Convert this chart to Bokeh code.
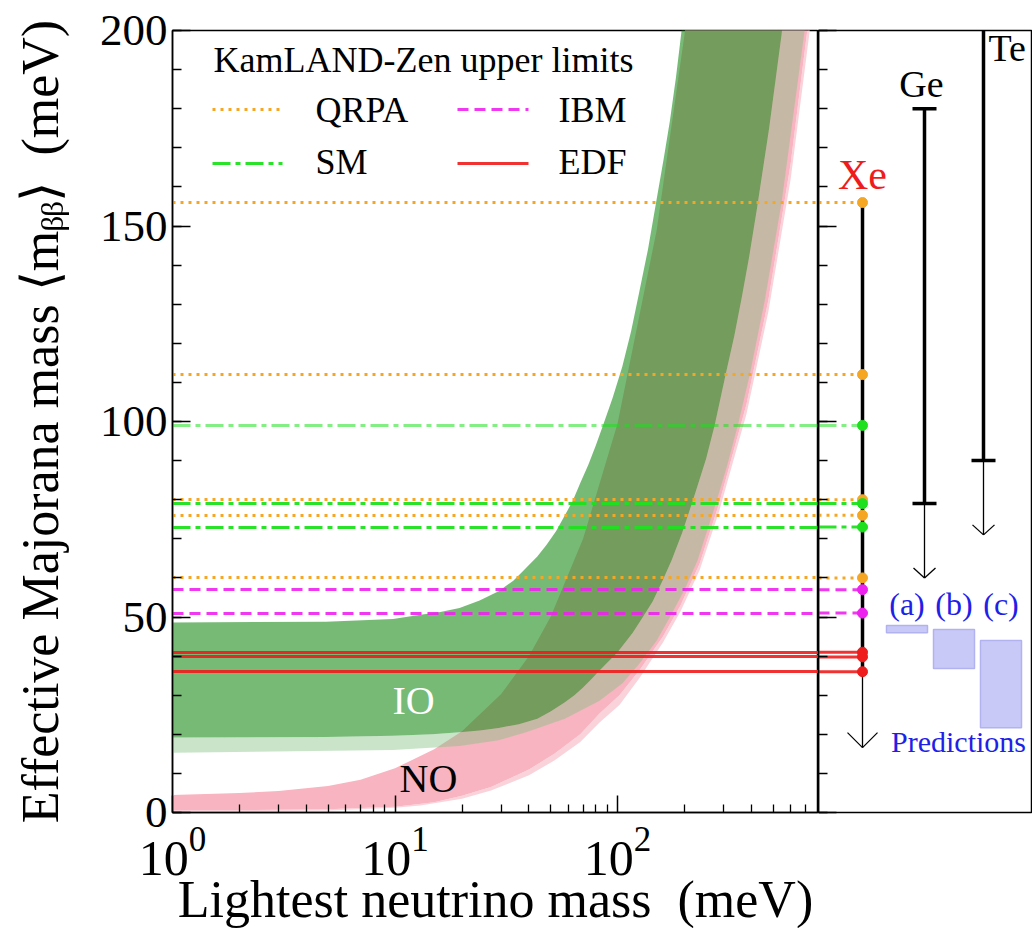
import math
from bokeh.plotting import figure
from bokeh.models import Range1d, SingleIntervalTicker, FixedTicker, Label
from bokeh.layouts import row
from bokeh.embed import file_html
from bokeh.resources import INLINE

# ---------------- data ----------------
# Inverted ordering band: upper edge, lower edge (dark), lower edge (3 sigma, light)
IO_UPPER_M = [1, 4.9, 9.8, 12.8, 16, 19.5, 24, 29.2, 34, 38, 43.6, 48, 53, 58, 63, 68, 74, 80, 86, 95,
              105, 115, 124, 137, 150, 161, 172, 183, 194, 240, 300]
IO_UPPER_V = [48.6, 48.8, 49.5, 50.5, 51.3, 52.3, 54.2, 56.6, 59.3, 62.0, 65.5, 68.5, 72.0, 76.0, 79.8,
              84.3, 89.0, 94.0, 99.0, 106.0, 114.0, 123.0, 132.0, 144.0, 157.0, 167.0, 177.0, 188.0,
              200.0, 246.0, 305.0]
IO_LOWER_M = [1, 4.9, 9.8, 14.7, 19.5, 24, 29.2, 36, 43.6, 50, 58, 64, 70, 76, 83, 91, 100, 117, 130,
              144, 160, 175, 195, 218, 250, 273, 306, 335, 361, 390, 422, 480, 546, 758]
IO_LOWER_V = [19.2, 19.3, 19.6, 20.0, 20.5, 21.0, 21.6, 22.6, 24.0, 25.8, 28.2, 30.0, 32.0, 34.0, 36.3,
              38.6, 41.0, 46.0, 50.0, 54.0, 59.5, 64.5, 71.5, 79.8, 90.5, 99.0, 112.0, 122.0, 131.5,
              142.0, 154.0, 175.0, 199.0, 278.0]
IO_LOWER3_M = [1, 9.8, 19.5, 29.2, 38.8, 58, 83, 105, 125, 150, 172, 200, 229, 273, 310, 347, 393, 459,
               546, 693, 850]
IO_LOWER3_V = [15.3, 16.0, 17.0, 18.5, 20.5, 24.0, 28.6, 33.0, 38.0, 44.0, 50.0, 57.0, 64.5, 78.0, 88.5,
               99.0, 112.0, 131.0, 156.0, 200.0, 245.0]

# Normal ordering band
NO_UPPER_M = [1, 2, 3, 5, 7, 10, 15, 20, 30, 40, 50, 70, 100, 150, 200, 300, 500, 850]
NO_UPPER_V = [4.5, 5.0, 5.5, 6.8, 8.4, 11.3, 16.2, 20.8, 30.3, 40.0, 50.0, 70.0, 99.5, 149.0, 199.0,
              298.0, 497.0, 845.0]
NO_LOWER_M = [1, 5, 10, 15, 20, 27, 40, 52, 68, 83, 102, 126, 160, 192, 234, 286, 380, 476, 600, 850]
NO_LOWER_V = [0.5, 0.8, 1.5, 2.6, 4.3, 6.5, 11.0, 15.0, 20.0, 25.3, 30.0, 36.5, 45.0, 53.0, 63.7, 79.0,
              104.5, 131.0, 166.0, 235.0]
NO_LOWER3_M = [1, 5, 10, 13, 20, 27, 40, 52, 68, 83, 102, 126, 160, 192, 234, 286, 380, 476, 600, 850]
NO_LOWER3_V = [0.3, 0.5, 1.2, 1.8, 3.5, 5.6, 9.5, 13.3, 18.0, 23.0, 27.5, 34.5, 43.5, 51.5, 62.0, 77.0,
               102.0, 128.0, 162.0, 229.0]

# KamLAND-Zen upper limits (meV)
QRPA = [156, 112, 80, 76, 60]
SM = [99, 79, 73]
SM_ALPHA = [0.55, 0.95, 0.95]
IBM = [57, 51]
EDF = [41.0, 39.8, 36.0]

# other experiments
EXPERIMENTS = ["Xe", "Ge", "Te"]
EXP_TOP = [156, 180, 230]
EXP_BOTTOM = [36, 79, 90]
EXP_ARROW = [16.6, 60, 71]

# predictions
PRED_LABELS = ["(a)", "(b)", "(c)"]
PRED_LOW = [46.0, 36.8, 21.7]
PRED_HIGH = [47.8, 46.8, 44.0]

X_TICKS = [1, 10, 100]
X_MINOR = [k * 10 ** d for d in range(3) for k in range(2, 10)]

# ---------------- layout / style ----------------
FONT = "Liberation Serif"
X0, X1 = 1, 800
Y0, Y1 = 0, 200
FRAME_W, FRAME_H = 646, 782
B_LEFT, B_TOP, B_BOTTOM = 172, 30, 115
RFW = 213
FX0 = B_LEFT
FY1 = B_TOP + FRAME_H
RX0 = B_LEFT + FRAME_W


def xpix(px):
    return 10 ** ((px - FX0) / FRAME_W * math.log10(X1 / X0))


def ypix(py):
    return (FY1 - py) / FRAME_H * (Y1 - Y0)


def rx(px):
    return (px - RX0) / RFW


YPX = FRAME_H / (Y1 - Y0)   # pixels per meV

ORANGE = "#f5a623"
GREEN = "#1ee01e"
MAGENTA = "#ee22ee"
RED = "#ee1c1c"
BLUE = "#1f1fe8"
NO_DARK = "#f8b4c0"
NO_LIGHT = "#fad3da"
IO_DARK = "#1b8c1b"
IO_LIGHT = "#82c182"


def label(fig, x, base_py, text, size_px, color="black", align="left"):
    # text box bottom sits a little below the baseline
    y = ypix(base_py + 0.18 * size_px)
    fig.add_layout(Label(x=x, y=y, text=text, text_align=align,
                         text_font=FONT, text_font_size=f"{size_px}px", text_color=color))


p = figure(frame_width=FRAME_W, frame_height=FRAME_H, x_axis_type="log",
           x_range=Range1d(X0, X1), y_range=Range1d(Y0, Y1),
           output_backend="svg", toolbar_location=None,
           min_border_left=B_LEFT, min_border_right=0,
           min_border_top=B_TOP, min_border_bottom=B_BOTTOM)
p.grid.visible = False
p.outline_line_color = "black"
p.outline_line_width = 1.5
p.background_fill_color = "white"
p.border_fill_color = "white"

yax = p.yaxis[0]
yax.ticker = SingleIntervalTicker(interval=50, num_minor_ticks=5)
yax.major_tick_in, yax.major_tick_out = 18, 0
yax.minor_tick_in, yax.minor_tick_out = 9, 0
yax.major_label_text_font = FONT
yax.major_label_text_font_size = "45px"
yax.major_label_standoff = 5
yax.axis_label = "Effective Majorana mass \u27e8m\u1d66\u1d66\u27e9 \u00a0(meV)"
yax.axis_label_text_font = FONT
yax.axis_label_text_font_size = "52px"
yax.axis_label_text_font_style = "normal"
yax.axis_label_standoff = 28

xax = p.xaxis[0]
xax.ticker = FixedTicker(ticks=X_TICKS, minor_ticks=X_MINOR)
xax.major_tick_in, xax.major_tick_out = 17, 0
xax.minor_tick_in, xax.minor_tick_out = 8, 0
xax.major_label_text_font = FONT
xax.major_label_text_font_size = "50px"
xax.major_label_standoff = 15
xax.axis_label = "Lightest neutrino mass \u00a0(meV)"
xax.axis_label_text_font = FONT
xax.axis_label_text_font_size = "52px"
xax.axis_label_text_font_style = "normal"
xax.axis_label_standoff = -7

for ax in (xax, yax):
    ax.axis_line_width = 1.5
    ax.major_tick_line_width = 1.5
    ax.minor_tick_line_width = 1.3
    ax.major_label_text_color = "black"
    ax.axis_label_text_color = "black"


def band(um, uv, lm, lv):
    return list(um) + list(reversed(lm)), list(uv) + list(reversed(lv))


bx, by = band(NO_LOWER_M, NO_LOWER_V, NO_LOWER3_M, NO_LOWER3_V)
p.patch(bx, by, fill_color=NO_LIGHT, line_color=None)
bx, by = band(NO_UPPER_M, NO_UPPER_V, NO_LOWER_M, NO_LOWER_V)
p.patch(bx, by, fill_color=NO_DARK, line_color=None)
bx, by = band(IO_LOWER_M, IO_LOWER_V, IO_LOWER3_M, IO_LOWER3_V)
p.patch(bx, by, fill_color=IO_LIGHT, fill_alpha=0.43, line_color=None)
bx, by = band(IO_UPPER_M, IO_UPPER_V, IO_LOWER_M, IO_LOWER_V)
p.patch(bx, by, fill_color=IO_DARK, fill_alpha=0.6, line_color=None)

# limit lines
p.hspan(y=QRPA, line_color=ORANGE, line_width=3, line_dash="3 5")
for v, a in zip(SM, SM_ALPHA):
    p.hspan(y=[v], line_color=GREEN, line_alpha=a, line_width=3, line_dash="18 5 5 5")
p.hspan(y=IBM, line_color=MAGENTA, line_alpha=0.9, line_width=3, line_dash="11 6")
p.hspan(y=EDF, line_color=RED, line_alpha=0.9, line_width=3)

# band labels
label(p, xpix(413), 715, "IO", 40, color="white", align="center")
label(p, xpix(428), 793, "NO", 40, align="center")

# legend (drawn by hand)
label(p, xpix(213), 73, "KamLAND-Zen upper limits", 36)
leg = [
    ("QRPA", ORANGE, "3 5", 1.0, 212, 282, 109, 315, 123),
    ("IBM", MAGENTA, "11 6", 0.9, 457, 528, 109, 558, 123),
    ("SM", GREEN, "18 5 5 5", 0.95, 212, 282, 163, 315, 175),
    ("EDF", RED, "solid", 0.9, 457, 528, 163, 558, 175),
]
for name, col, dash, al, sx0, sx1, sy, tx, ty in leg:
    p.segment(x0=[xpix(sx0)], x1=[xpix(sx1)], y0=[ypix(sy)], y1=[ypix(sy)],
              line_color=col, line_alpha=al, line_width=3, line_dash=dash)
    label(p, xpix(tx), ty, name, 36)

# ---------------- right panel ----------------
q = figure(frame_width=RFW, frame_height=FRAME_H, x_range=Range1d(0, 1), y_range=p.y_range,
           output_backend="svg", toolbar_location=None, x_axis_location=None,
           min_border_left=0, min_border_right=1,
           min_border_top=B_TOP, min_border_bottom=B_BOTTOM)
q.grid.visible = False
q.outline_line_color = "black"
q.outline_line_width = 1.5
q.background_fill_color = "white"
q.border_fill_color = "white"
qa = q.yaxis[0]
qa.ticker = SingleIntervalTicker(interval=50, num_minor_ticks=5)
qa.major_tick_in, qa.major_tick_out = 18, 0
qa.minor_tick_in, qa.minor_tick_out = 9, 0
qa.major_label_text_font_size = "0px"
qa.major_label_text_color = None
qa.major_label_standoff = 0
qa.axis_line_width = 1.5
qa.major_tick_line_width = 1.5
qa.minor_tick_line_width = 1.3

EXP_X = [rx(862), rx(924), rx(983)]
EXP_CAPS = [False, True, True]
ARROW_HW = [15, 11, 11]
ARROW_LEN = [15, 10, 10]
CAP_HW = 12

XE_X = EXP_X[0]
for vals, col, dash, al in ((QRPA, ORANGE, "3 5", 1.0), (IBM, MAGENTA, "11 6", 0.9),
                            (EDF, RED, "solid", 0.9)):
    q.segment(x0=[0] * len(vals), x1=[XE_X] * len(vals), y0=vals, y1=vals,
              line_color=col, line_alpha=al, line_width=3, line_dash=dash)
for v, a in zip(SM, SM_ALPHA):
    q.segment(x0=[0], x1=[XE_X], y0=[v], y1=[v], line_color=GREEN, line_alpha=a,
              line_width=3, line_dash="18 5 5 5")

for ex, top, bot, tip, caps, hw, ln in zip(EXP_X, EXP_TOP, EXP_BOTTOM, EXP_ARROW,
                                           EXP_CAPS, ARROW_HW, ARROW_LEN):
    q.segment(x0=[ex], x1=[ex], y0=[bot], y1=[top], line_color="black", line_width=3.5)
    q.segment(x0=[ex], x1=[ex], y0=[tip], y1=[bot], line_color="black", line_width=1.3)
    dx = hw / RFW
    dy = ln / YPX
    q.segment(x0=[ex - dx, ex + dx], x1=[ex, ex], y0=[tip + dy, tip + dy], y1=[tip, tip],
              line_color="black", line_width=1.3)
    if caps:
        cw = CAP_HW / RFW
        q.segment(x0=[ex - cw, ex - cw], x1=[ex + cw, ex + cw], y0=[top, bot], y1=[top, bot],
                  line_color="black", line_width=3.5)

for vals, col in ((QRPA, ORANGE), (SM, GREEN), (IBM, MAGENTA), (EDF, RED)):
    q.scatter(x=[XE_X] * len(vals), y=vals, size=10, fill_color=col, line_color=col)

PRED_X0 = [rx(886), rx(933), rx(980)]
PRED_X1 = [rx(927), rx(974), rx(1021)]
q.quad(left=PRED_X0, right=PRED_X1, bottom=PRED_LOW, top=PRED_HIGH,
       fill_color="#c6c6f8", fill_alpha=0.95, line_color="#b2b2f0", line_width=1.5)
for lab, a, b in zip(PRED_LABELS, PRED_X0, PRED_X1):
    label(q, (a + b) / 2, 616, lab, 32, color=BLUE, align="center")
label(q, rx(958), 752, "Predictions", 30, color=BLUE, align="center")

label(q, EXP_X[0], 190, "Xe", 42, color=RED, align="center")
label(q, rx(921), 98, "Ge", 38, align="center")
label(q, rx(988), 62, "Te", 38)

layout = row(p, q)
open("out.html", "w").write(file_html(layout, INLINE))
